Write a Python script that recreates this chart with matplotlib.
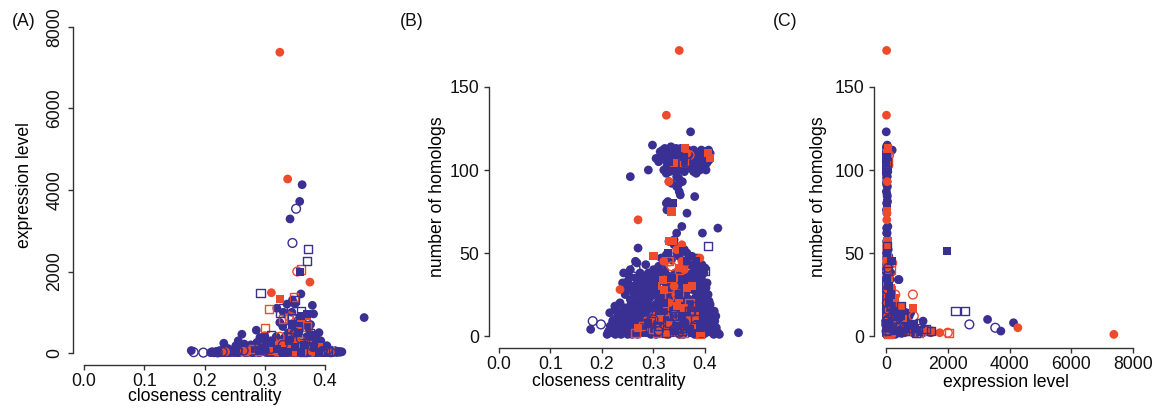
import matplotlib
matplotlib.use("Agg")
import matplotlib.pyplot as plt

plt.rcParams['font.family'] = ['Liberation Sans', 'DejaVu Sans']

# ---- data: (closeness centrality, expression level, number of homologs) per protein ----
blue_filled_circle = [
    # high-homolog cluster
    (0.298, 40, 115), (0.310, 25, 105), (0.315, 60, 108), (0.320, 15, 100), (0.322, 30, 113),
    (0.325, 10, 98), (0.328, 50, 110), (0.330, 20, 104), (0.332, 35, 106), (0.335, 70, 112),
    (0.337, 12, 109), (0.340, 45, 103), (0.342, 28, 101), (0.344, 80, 113), (0.346, 18, 107),
    (0.348, 55, 111), (0.350, 8, 105), (0.352, 38, 100), (0.355, 22, 108), (0.357, 65, 102),
    (0.360, 14, 110), (0.362, 42, 106), (0.365, 30, 104), (0.367, 75, 112), (0.370, 20, 109),
    (0.372, 48, 101), (0.375, 12, 107), (0.378, 35, 99), (0.380, 60, 111), (0.382, 25, 105),
    (0.385, 90, 103), (0.388, 16, 110), (0.390, 44, 100), (0.392, 28, 108), (0.395, 62, 106),
    (0.398, 10, 102), (0.400, 36, 111), (0.403, 52, 104), (0.405, 20, 109), (0.408, 70, 106),
    (0.410, 30, 110), (0.318, 200, 112), (0.326, 26, 102), (0.334, 14, 114), (0.338, 40, 107),
    (0.343, 58, 99), (0.353, 24, 113), (0.358, 46, 108), (0.363, 18, 101), (0.368, 66, 109),
    (0.373, 32, 104), (0.383, 12, 98), (0.393, 54, 112), (0.290, 20, 100), (0.372, 8, 123),
    (0.255, 30, 96), (0.345, 40, 96), (0.360, 22, 99), (0.378, 45, 112), (0.405, 15, 105),
    (0.305, 30, 107), (0.313, 20, 111), (0.323, 45, 106), (0.331, 15, 99), (0.339, 60, 112),
    (0.347, 25, 104), (0.354, 40, 110), (0.361, 12, 103), (0.366, 50, 107), (0.371, 20, 111),
    (0.377, 35, 103), (0.386, 18, 107), (0.391, 45, 104), (0.397, 25, 109), (0.402, 15, 100),
    (0.407, 40, 112), (0.356, 30, 93), (0.349, 20, 95),
    # middle
    (0.330, 30, 93), (0.335, 18, 92), (0.345, 44, 90), (0.348, 25, 91), (0.350, 12, 87),
    (0.352, 35, 85), (0.325, 20, 80), (0.328, 50, 81), (0.326, 15, 76), (0.380, 40, 84),
    (0.365, 28, 74), (0.355, 60, 66), (0.345, 22, 62), (0.395, 35, 62), (0.425, 20, 65),
    (0.340, 55, 58),
    # 40-60
    (0.270, 40, 53), (0.265, 60, 45), (0.268, 30, 44), (0.330, 20, 57), (0.340, 45, 55),
    (0.355, 30, 54), (0.360, 70, 52), (0.345, 15, 50), (0.350, 90, 48), (0.375, 25, 48),
    (0.385, 50, 47), (0.400, 35, 41), (0.320, 80, 44), (0.310, 30, 42), (0.300, 45, 40),
    (0.290, 20, 38), (0.362, 55, 44), (0.375, 160, 38), (0.390, 40, 36), (0.400, 25, 30),
    (0.395, 70, 26), (0.380, 30, 41),
    (0.394, 40, 43), (0.285, 30, 43), (0.315, 25, 47), (0.325, 60, 49), (0.335, 30, 46),
    (0.365, 40, 50), (0.370, 30, 43), (0.385, 25, 40), (0.255, 20, 40),
    # 20-40
    (0.240, 20, 32), (0.245, 50, 25), (0.250, 15, 33), (0.255, 80, 22), (0.258, 30, 30),
    (0.262, 60, 26), (0.265, 25, 35), (0.270, 100, 28), (0.272, 40, 24), (0.275, 20, 33),
    (0.280, 70, 30), (0.283, 35, 21), (0.286, 50, 27), (0.290, 120, 34), (0.293, 25, 23),
    (0.296, 60, 29), (0.300, 40, 36), (0.303, 90, 25), (0.306, 15, 31), (0.310, 55, 22),
    (0.313, 30, 38), (0.316, 140, 27), (0.320, 45, 33), (0.323, 20, 24), (0.326, 75, 30),
    (0.330, 35, 36), (0.333, 110, 21), (0.336, 50, 28), (0.340, 25, 34), (0.343, 65, 25),
    (0.346, 30, 31), (0.350, 95, 37), (0.353, 40, 23), (0.356, 20, 29), (0.360, 130, 34),
    (0.363, 55, 26), (0.366, 30, 32), (0.370, 80, 22), (0.373, 45, 36), (0.376, 25, 28),
    (0.380, 60, 33), (0.383, 35, 24), (0.386, 100, 30), (0.390, 20, 27), (0.393, 50, 35),
    (0.397, 30, 22), (0.402, 70, 29), (0.406, 40, 25), (0.300, 420, 34), (0.320, 30, 28),
    (0.242, 35, 38), (0.248, 20, 28), (0.253, 60, 36), (0.260, 25, 21), (0.267, 45, 31),
    (0.274, 30, 38), (0.278, 70, 25), (0.282, 20, 35), (0.288, 55, 22), (0.292, 30, 31),
    (0.298, 80, 26), (0.302, 20, 33), (0.308, 40, 28), (0.312, 90, 35), (0.318, 25, 23),
    (0.322, 60, 39), (0.328, 30, 26), (0.332, 75, 32), (0.338, 20, 22), (0.342, 50, 38),
    (0.348, 30, 27), (0.352, 65, 33), (0.358, 20, 24), (0.362, 45, 38), (0.368, 25, 29),
    (0.372, 55, 33), (0.378, 30, 21), (0.382, 70, 37), (0.388, 20, 26), (0.392, 45, 31),
    (0.398, 30, 38), (0.404, 60, 32), (0.408, 25, 21),
    # 0-20
    (0.178, 60, 4),
    (0.210, 10, 1), (0.213, 25, 3), (0.216, 5, 6), (0.220, 40, 2), (0.223, 15, 8),
    (0.226, 60, 1), (0.229, 20, 11), (0.232, 240, 4), (0.235, 30, 14), (0.238, 10, 2),
    (0.241, 80, 7), (0.244, 20, 17), (0.247, 45, 3), (0.250, 15, 10), (0.253, 120, 5),
    (0.256, 300, 19), (0.259, 35, 1), (0.262, 460, 12), (0.265, 70, 6), (0.268, 25, 15),
    (0.271, 150, 3), (0.274, 40, 9), (0.277, 200, 18), (0.280, 10, 2), (0.283, 90, 13),
    (0.286, 560, 5), (0.289, 30, 8), (0.292, 380, 16), (0.295, 60, 1), (0.298, 140, 11),
    (0.301, 20, 4), (0.304, 250, 19), (0.307, 50, 7), (0.310, 300, 14), (0.313, 15, 2),
    (0.316, 180, 9), (0.319, 400, 17), (0.322, 35, 5), (0.325, 750, 12), (0.328, 70, 1),
    (0.331, 1000, 3), (0.334, 25, 15), (0.337, 1200, 2), (0.340, 500, 8), (0.343, 110, 18),
    (0.346, 1300, 4), (0.349, 45, 10), (0.352, 600, 6), (0.355, 800, 14), (0.358, 20, 1),
    (0.361, 900, 3), (0.364, 160, 16), (0.367, 700, 7), (0.370, 60, 12), (0.373, 600, 2),
    (0.376, 700, 9), (0.379, 1170, 4), (0.381, 960, 3), (0.384, 400, 11), (0.387, 90, 19),
    (0.390, 500, 5), (0.393, 300, 1), (0.396, 40, 13), (0.399, 150, 8), (0.402, 20, 2),
    (0.405, 80, 15), (0.408, 30, 6), (0.411, 50, 10), (0.414, 15, 3), (0.417, 40, 1),
    (0.420, 25, 4), (0.425, 30, 2), (0.465, 870, 2),
    (0.215, 20, 14), (0.225, 50, 18), (0.235, 10, 20), (0.245, 30, 12), (0.255, 15, 8),
    (0.265, 40, 2), (0.275, 60, 5), (0.285, 20, 10), (0.295, 80, 15), (0.305, 35, 3),
    (0.315, 55, 12), (0.325, 20, 7), (0.335, 420, 10), (0.345, 30, 13), (0.355, 65, 17),
    (0.365, 25, 5), (0.375, 45, 11), (0.385, 30, 7), (0.395, 20, 18), (0.405, 60, 12),
    (0.415, 35, 8), (0.240, 15, 5), (0.250, 45, 1), (0.260, 25, 16), (0.270, 10, 20),
    (0.280, 35, 12), (0.290, 15, 3), (0.300, 55, 9), (0.310, 25, 18), (0.320, 10, 14),
    (0.330, 40, 20), (0.340, 15, 6), (0.350, 35, 2), (0.360, 20, 19), (0.370, 15, 15),
    (0.380, 40, 1), (0.390, 20, 10), (0.400, 10, 16), (0.410, 25, 19), (0.345, 1000, 2),
    (0.330, 650, 14), (0.350, 1200, 9), (0.360, 1450, 2), (0.320, 1100, 3), (0.370, 400, 34),
    (0.330, 300, 14), (0.340, 450, 14), (0.350, 550, 14), (0.360, 650, 14), (0.320, 200, 14),
    (0.212, 30, 2), (0.218, 12, 5), (0.222, 45, 9), (0.227, 8, 3), (0.231, 70, 12),
    (0.234, 20, 6), (0.237, 35, 1), (0.239, 110, 9), (0.243, 15, 4), (0.246, 60, 14),
    (0.249, 25, 7), (0.252, 180, 2), (0.254, 40, 11), (0.257, 10, 16), (0.260, 90, 4),
    (0.263, 30, 9), (0.266, 220, 13), (0.269, 15, 1), (0.272, 50, 7), (0.276, 130, 16),
    (0.278, 25, 3), (0.281, 75, 11), (0.284, 40, 18), (0.287, 260, 2), (0.290, 20, 6),
    (0.293, 100, 12), (0.296, 35, 4), (0.299, 320, 8), (0.302, 60, 17), (0.305, 15, 1),
    (0.308, 180, 10), (0.311, 45, 5), (0.314, 90, 15), (0.317, 25, 3), (0.321, 240, 11),
    (0.324, 50, 19), (0.327, 120, 6), (0.329, 30, 9), (0.332, 360, 2), (0.336, 70, 16),
    (0.339, 20, 12), (0.341, 200, 4), (0.344, 40, 8), (0.347, 150, 19), (0.351, 55, 1),
    (0.354, 280, 11), (0.357, 35, 6), (0.359, 100, 15), (0.362, 250, 3), (0.366, 60, 9),
    (0.369, 180, 13), (0.372, 25, 4), (0.374, 320, 17), (0.377, 80, 2), (0.381, 45, 10),
    (0.383, 210, 6), (0.386, 30, 14), (0.389, 140, 3), (0.392, 65, 18), (0.394, 20, 8),
    (0.397, 110, 1), (0.400, 40, 12), (0.403, 180, 5), (0.406, 25, 9), (0.409, 70, 3),
    (0.412, 30, 14), (0.416, 55, 6), (0.419, 15, 9), (0.422, 40, 5), (0.428, 30, 1),
    (0.225, 20, 16), (0.233, 55, 19), (0.242, 25, 11), (0.251, 70, 17), (0.258, 30, 13),
    (0.267, 15, 19), (0.273, 85, 14), (0.279, 20, 17), (0.288, 45, 20), (0.294, 25, 18),
    (0.303, 65, 14), (0.309, 20, 12), (0.318, 40, 16), (0.323, 90, 9), (0.331, 20, 17),
    (0.338, 55, 11), (0.343, 30, 20), (0.348, 75, 7), (0.356, 20, 13), (0.361, 45, 18),
    (0.368, 30, 8), (0.374, 70, 14), (0.379, 25, 18), (0.388, 50, 9), (0.394, 35, 15),
    (0.401, 20, 6), (0.407, 45, 17), (0.413, 25, 11), (0.418, 50, 15), (0.421, 20, 12),
    (0.362, 4130, 8), (0.358, 3720, 3), (0.342, 3290, 10),
]

blue_open_circle = [
    (0.352, 3540, 5), (0.346, 2700, 7), (0.182, 20, 9), (0.198, 10, 7), (0.222, 15, 9),
    (0.230, 30, 9), (0.255, 40, 28), (0.265, 60, 41), (0.395, 30, 20), (0.396, 50, 16),
    (0.405, 80, 5), (0.330, 200, 12), (0.360, 350, 8), (0.310, 100, 3), (0.380, 150, 6),
    (0.350, 500, 2), (0.300, 60, 10), (0.410, 20, 3), (0.290, 250, 15), (0.340, 600, 4),
]

blue_filled_square = [
    (0.358, 1980, 51), (0.328, 40, 50), (0.382, 150, 45), (0.338, 20, 80), (0.335, 30, 35),
    (0.365, 200, 45), (0.360, 900, 7), (0.370, 950, 4), (0.355, 500, 12), (0.340, 300, 3),
    (0.320, 100, 20), (0.310, 250, 15), (0.350, 150, 25), (0.290, 60, 8), (0.375, 450, 2),
    (0.345, 700, 6), (0.330, 10, 105), (0.360, 15, 108), (0.390, 30, 5), (0.300, 80, 30),
]

blue_open_square = [
    (0.372, 2560, 15), (0.370, 2250, 15), (0.293, 1470, 3), (0.325, 980, 2), (0.360, 1040, 5),
    (0.350, 1300, 4), (0.405, 40, 54), (0.400, 60, 39), (0.363, 20, 105), (0.330, 1100, 8),
    (0.340, 400, 12), (0.310, 450, 6), (0.380, 300, 10), (0.355, 600, 3), (0.295, 200, 9),
    (0.375, 500, 18), (0.345, 850, 5),
]

red_filled_circle = [
    (0.325, 7380, 1), (0.338, 4270, 5), (0.375, 1740, 2), (0.311, 1480, 3), (0.350, 20, 172),
    (0.325, 15, 133), (0.270, 25, 70), (0.235, 30, 28), (0.390, 40, 47), (0.330, 40, 93),
    (0.355, 30, 55), (0.345, 25, 52), (0.360, 60, 40), (0.330, 50, 20), (0.340, 100, 8),
    (0.360, 120, 3), (0.300, 50, 12), (0.350, 200, 1), (0.370, 80, 10), (0.380, 30, 6),
    (0.320, 20, 45), (0.365, 60, 110), (0.355, 100, 45), (0.340, 40, 30), (0.330, 80, 2),
]

red_open_circle = [
    (0.354, 2000, 2), (0.345, 870, 25), (0.340, 900, 12), (0.330, 150, 45), (0.370, 100, 109),
    (0.335, 50, 42), (0.360, 200, 44), (0.350, 300, 25), (0.325, 400, 5),
]

red_filled_square = [
    (0.300, 60, 48), (0.305, 40, 30), (0.318, 80, 34), (0.335, 30, 75), (0.362, 50, 113),
    (0.405, 20, 110), (0.410, 60, 107), (0.340, 40, 104), (0.330, 70, 57), (0.338, 40, 57),
    (0.345, 520, 18), (0.360, 870, 17), (0.325, 1330, 3), (0.355, 550, 10), (0.370, 900, 5),
    (0.320, 200, 28), (0.365, 150, 29), (0.375, 100, 30), (0.350, 300, 23), (0.330, 250, 8),
    (0.380, 60, 12), (0.340, 100, 35), (0.310, 50, 10), (0.360, 200, 4), (0.390, 150, 2),
    (0.270, 40, 5), (0.350, 30, 41),
]

red_open_square = [
    (0.307, 1080, 2), (0.300, 620, 4), (0.348, 1380, 3), (0.360, 2050, 2), (0.330, 840, 6),
    (0.340, 870, 5), (0.370, 650, 3), (0.360, 60, 105), (0.335, 50, 35), (0.330, 100, 45),
    (0.330, 80, 24), (0.350, 150, 40), (0.345, 200, 12), (0.360, 300, 9), (0.320, 100, 15),
    (0.265, 60, 2), (0.280, 100, 6), (0.290, 50, 9), (0.385, 120, 3), (0.390, 80, 1),
    (0.370, 200, 20),
]

BLUE = '#3a2f92'
RED = '#ee4a2b'

series = [
    (blue_filled_circle, BLUE, 'o', True),
    (red_filled_circle, RED, 'o', True),
    (red_filled_square, RED, 's', True),
    (red_open_circle, RED, 'o', False),
    (red_open_square, RED, 's', False),
    (blue_filled_square, BLUE, 's', True),
    (blue_open_circle, BLUE, 'o', False),
    (blue_open_square, BLUE, 's', False),
]

W, H = 1158, 412
fig = plt.figure(figsize=(W / 100, H / 100), dpi=100)


def make_ax(left, right, bottom, top):
    return fig.add_axes([left / W, (H - bottom) / H, (right - left) / W, (bottom - top) / H])


axA = make_ax(73, 375, 365, 15)
axB = make_ax(489, 748, 348, 39)
axC = make_ax(874, 1145, 348, 39)

panels = [
    (axA, 0, 1, (-0.0183, 0.483), (-294, 8294), [0.0, 0.1, 0.2, 0.3, 0.4], [0, 2000, 4000, 6000, 8000],
     ['0.0', '0.1', '0.2', '0.3', '0.4'], ['0', '2000', '4000', '6000', '8000']),
    (axB, 0, 2, (-0.0194, 0.4835), (-7.2, 178.9), [0.0, 0.1, 0.2, 0.3, 0.4], [0, 50, 100, 150],
     ['0.0', '0.1', '0.2', '0.3', '0.4'], ['0', '50', '100', '150']),
    (axC, 1, 2, (-389, 8389), (-7.2, 178.9), [0, 2000, 4000, 6000, 8000], [0, 50, 100, 150],
     ['0', '2000', '4000', '6000', '8000'], ['0', '50', '100', '150']),
]

FS = 12.7
MS = 40
for (ax, ix, iy, xlim, ylim, xt, yt, xtl, ytl) in panels:
    for data, col, mk, filled in series:
        xs = [d[ix] for d in data]
        ys = [d[iy] for d in data]
        size = MS if mk == 'o' else MS * 0.85
        if filled:
            ax.scatter(xs, ys, s=size, marker=mk, c=col, edgecolors='none', zorder=2)
        else:
            ax.scatter(xs, ys, s=size, marker=mk, facecolors='none', edgecolors=col,
                       linewidths=1.0, zorder=2)
    ax.set_xlim(*xlim)
    ax.set_ylim(*ylim)
    for s in ['top', 'right']:
        ax.spines[s].set_visible(False)
    for s in ['left', 'bottom']:
        ax.spines[s].set_color('#333333')
        ax.spines[s].set_linewidth(1.0)
    ax.spines['bottom'].set_bounds(xt[0], xt[-1])
    ax.spines['left'].set_bounds(yt[0], yt[-1])
    ax.set_xticks(xt)
    ax.set_xticklabels(xtl)
    ax.set_yticks(yt)
    ax.set_yticklabels(ytl)
    ax.tick_params(axis='both', direction='out', length=3.6, width=1.0, color='#333333',
                   labelsize=FS, labelcolor='#111111')
    ax.tick_params(axis='x', pad=2.0)
    ax.tick_params(axis='y', pad=3.5)
    ax.patch.set_visible(False)

# panel A: vertical y tick labels
for lab in axA.get_yticklabels():
    lab.set_rotation(90)
    lab.set_va('center')
    lab.set_ha('right')

axA.set_xlabel('closeness centrality', fontsize=FS, va='center')
axA.xaxis.set_label_coords(0.436, -0.091)
axA.set_ylabel('expression level', fontsize=FS, va='center')
axA.yaxis.set_label_coords(-0.162, 0.514)

axB.set_xlabel('closeness centrality', fontsize=FS, va='center')
axB.xaxis.set_label_coords(0.4626, -0.107)
axB.set_ylabel('number of homologs', fontsize=FS, va='center')
axB.yaxis.set_label_coords(-0.20, 0.49)

axC.set_xlabel('expression level', fontsize=FS, va='center')
axC.xaxis.set_label_coords(0.487, -0.113)
axC.set_ylabel('number of homologs', fontsize=FS, va='center')
axC.yaxis.set_label_coords(-0.203, 0.49)

fig.text(12 / W, 1 - 21 / H, '(A)', fontsize=FS, va='center', ha='left', color='#111111')
fig.text(400 / W, 1 - 21 / H, '(B)', fontsize=FS, va='center', ha='left', color='#111111')
fig.text(773 / W, 1 - 21 / H, '(C)', fontsize=FS, va='center', ha='left', color='#111111')

fig.savefig('out.png', dpi=100)
